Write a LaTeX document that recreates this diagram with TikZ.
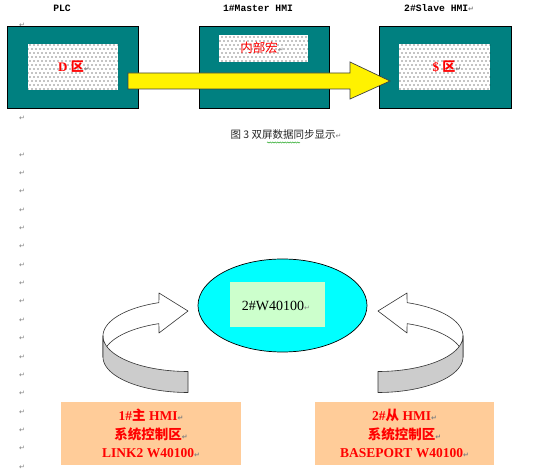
\documentclass[tikz,border=0pt]{standalone}
\usepackage{fontspec}
\setmainfont{Liberation Serif}
\newfontfamily\cjk{Noto Sans CJK SC}
\newfontfamily\monof{Liberation Mono}
\newfontfamily\symf{DejaVu Sans}
\usetikzlibrary{shapes.geometric,patterns,decorations.pathmorphing}
\pgfdeclarepatternformonly{wdots}{\pgfqpoint{-1pt}{-1pt}}{\pgfqpoint{5pt}{9pt}}{\pgfqpoint{4pt}{8pt}}{%
  \pgfpathcircle{\pgfqpoint{0pt}{0pt}}{0.6pt}%
  \pgfpathcircle{\pgfqpoint{2pt}{4pt}}{0.6pt}%
  \pgfusepath{fill}}
\definecolor{tealbox}{RGB}{0,128,128}
\definecolor{tanbox}{RGB}{255,204,153}
\definecolor{mintbox}{RGB}{204,255,204}
\definecolor{aquafill}{RGB}{0,255,255}
\definecolor{rmkgray}{RGB}{128,128,128}
\definecolor{ribbongray}{RGB}{204,204,204}
\newcommand\retmark{{\symf\fontsize{7}{7}\selectfont\textcolor{rmkgray}{↵}}}
\newcommand\ribbonarrow{%
  \filldraw[ribbon, fill=white]
    (103,336) -- plot[domain=180:250, samples=40] ({188+85*cos(\x)},{336+35.5*sin(\x)})
    -- (159,293) -- (188,311) -- (159,333)
    -- plot[domain=250:180, samples=40] ({188+85*cos(\x)},{357+35.5*sin(\x)}) -- cycle;
  \filldraw[ribbon, fill=ribbongray]
    plot[domain=180:90, samples=40] ({188+85*cos(\x)},{336+35.5*sin(\x)})
    -- plot[domain=90:180, samples=40] ({188+85*cos(\x)},{357+35.5*sin(\x)}) -- cycle;}
\begin{document}
\begin{tikzpicture}[x=1pt, y=-1pt,
  tealframe/.style={draw=black, line width=0.8pt, fill=tealbox, minimum width=131pt, minimum height=82pt, inner sep=0pt},
  dotbox/.style={fill=white, postaction={pattern=wdots, pattern color=black}, inner sep=0pt},
  toplabel/.style={font=\monof\bfseries\fontsize{9.7}{11}\selectfont, inner sep=0pt},
  redtext/.style={text=red, font=\bfseries\fontsize{13}{15}\selectfont},
  retm/.style={inner sep=0pt},
  ribbon/.style={draw=black!80, line width=0.6pt, line join=round},
  tanbox/.style={fill=tanbox, minimum height=63pt, inner sep=0pt, align=center, text=red,
     font=\bfseries\fontsize{13.5}{18.5}\selectfont}]
\useasboundingbox (0,0) rectangle (550,473);
\fill[white] (0,0) rectangle (550,473);

% paragraph marks down the left margin
\node[retm] (m0) at (22,25) {\retmark};
\node[retm] (m1) at (22,118) {\retmark};
\foreach \i in {0,...,17} \node[retm] (r\i) at (22,{155+18.35*\i}) {\retmark};

% top labels
\node[toplabel] (lplc) at (62,8) {PLC};
\node[toplabel] (lmaster) at (258,8) {1\#Master HMI};
\node[toplabel, anchor=west] (lslave) at (404,8) {2\#Slave HMI\retmark};

% three teal boxes
\node[tealframe] (plc) at (72.5,67) {};
\node[dotbox, minimum width=90pt, minimum height=46pt] (dz) at (73,67) {};
\node[redtext] (dlab) at (74,67) {D {\cjk 区}\retmark};

\node[tealframe, minimum width=130pt] (master) at (264,67) {};
\node[dotbox, minimum width=89pt, minimum height=27pt] (nb) at (263.5,48.5) {};
\node[text=red, font=\cjk\fontsize{12.5}{14}\selectfont, inner sep=0pt] (nblab) at (262,48) {内部宏\retmark};

\node[tealframe, minimum width=132pt] (slave) at (445,67) {};
\node[dotbox, minimum width=91pt, minimum height=46pt] (sz) at (444.5,67) {};
\node[redtext] (slab) at (447,67) {\$ {\cjk 区}\retmark};

% yellow block arrow
\filldraw[fill=yellow, draw=black!75, line width=0.7pt, line join=miter]
  (128,73) -- (350,73) -- (350,62) -- (390,81) -- (350,99) -- (350,89) -- (128,89) -- cycle;

% caption
\node[font=\cjk\fontsize{10.5}{12}\selectfont, text=black!85, inner sep=0pt] (cap) at (286,135) {图 3 双屏数据同步显示\retmark};
\draw[green!60!black, line width=0.4pt, decorate, decoration={snake, amplitude=0.6pt, segment length=2.5pt}]
  (267,142.5) -- (300,142.5);

% ellipse
\node[ellipse, draw=black, line width=0.7pt, fill=aquafill, minimum width=169pt, minimum height=93pt, inner sep=0pt] (ell) at (282.5,305.5) {};
\node[fill=mintbox, minimum width=95pt, minimum height=45pt, inner sep=0pt] (wreg) at (277.5,304.5) {};
\node[font=\fontsize{14}{16}\selectfont, inner sep=0pt] (wlab) at (276,306) {2\#W40100\retmark};

% curved ribbon arrows
\ribbonarrow
\begin{scope}[xshift=566pt, xscale=-1]
\ribbonarrow
\end{scope}

% bottom boxes
\node[tanbox, minimum width=180pt] (mainbox) at (151,433.5)
  {1\#{\cjk 主} HMI\retmark\\{\cjk 系统控制区}\retmark\\LINK2 W40100\retmark};
\node[tanbox, minimum width=179pt] (slavebox) at (404.5,433.5)
  {2\#{\cjk 从} HMI\retmark\\{\cjk 系统控制区}\retmark\\BASEPORT W40100\retmark};
\end{tikzpicture}
\end{document}
